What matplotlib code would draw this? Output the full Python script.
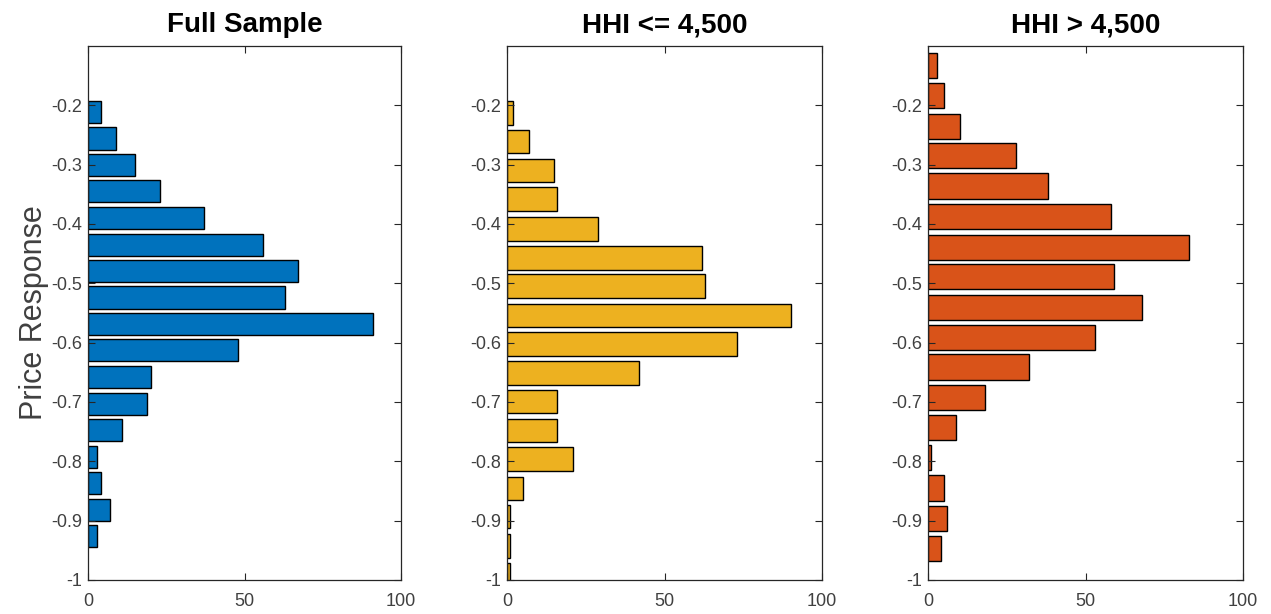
"""Price response histograms: full sample vs HHI split."""
import matplotlib
matplotlib.use('Agg')
import matplotlib.pyplot as plt

plt.rcParams['font.family'] = ['Liberation Sans', 'DejaVu Sans']

# bin centres (price response) and counts
full_centers = [-0.211, -0.256, -0.301, -0.345, -0.390, -0.435, -0.479, -0.524, -0.568,
                -0.613, -0.658, -0.703, -0.747, -0.792, -0.836, -0.882, -0.926]
full_counts = [4, 9, 15, 23, 37, 56, 67, 63, 91, 48, 20, 19, 11, 3, 4, 7, 3]

low_centers = [-0.213, -0.261, -0.310, -0.358, -0.408, -0.457, -0.504, -0.554, -0.602,
               -0.651, -0.699, -0.748, -0.796, -0.846, -0.893, -0.943, -0.991]
low_counts = [2, 7, 15, 16, 29, 62, 63, 90, 73, 42, 16, 16, 21, 5, 1, 1, 1]

high_centers = [-0.133, -0.184, -0.235, -0.285, -0.336, -0.388, -0.439, -0.489, -0.540,
                -0.591, -0.641, -0.692, -0.743, -0.793, -0.845, -0.896, -0.947]
high_counts = [3, 5, 10, 28, 38, 58, 83, 59, 68, 53, 32, 18, 9, 1, 5, 6, 4]

titles = ['Full Sample', 'HHI <= 4,500', 'HHI > 4,500']
colors = ['#0072BD', '#EDB120', '#D95319']
y_ticks = [-1, -0.9, -0.8, -0.7, -0.6, -0.5, -0.4, -0.3, -0.2]
y_labels = ['-1', '-0.9', '-0.8', '-0.7', '-0.6', '-0.5', '-0.4', '-0.3', '-0.2']
x_ticks = [0, 50, 100]

W, H = 1271, 614
fig = plt.figure(figsize=(W / 100, H / 100), dpi=100, facecolor='white')
boxes = [(88, 313), (507, 315), (928, 315)]
top_px, bot_px = 46, 580

axc = '#262626'
lblc = '#404040'
for (left, width), centers, counts, title, col in zip(
        boxes, [full_centers, low_centers, high_centers],
        [full_counts, low_counts, high_counts], titles, colors):
    ax = fig.add_axes([left / W, 1 - bot_px / H, width / W, (bot_px - top_px) / H])
    step = abs(centers[1] - centers[0])
    ax.barh(centers, counts, height=step * 0.83, color=col, edgecolor='black',
            linewidth=1.0)
    ax.set_xlim(0, 100)
    ax.set_ylim(-1, -0.1)
    ax.set_yticks(y_ticks)
    ax.set_yticklabels(y_labels)
    ax.set_xticks(x_ticks)
    ax.tick_params(direction='in', length=5, width=0.8, colors=axc, labelcolor=lblc,
                   labelsize=13, top=True, right=True)
    ax.tick_params(axis='x', pad=9)
    ax.tick_params(axis='y', pad=4)
    for s in ax.spines.values():
        s.set_color(axc)
        s.set_linewidth(0.9)
    ax.set_title(title, fontsize=20, fontweight='bold', color='black', pad=10)
    if left == 88:
        ax.set_ylabel('Price Response', fontsize=22, color=lblc, labelpad=2)

fig.savefig('out.png', dpi=100, facecolor='white')
plt.close(fig)
